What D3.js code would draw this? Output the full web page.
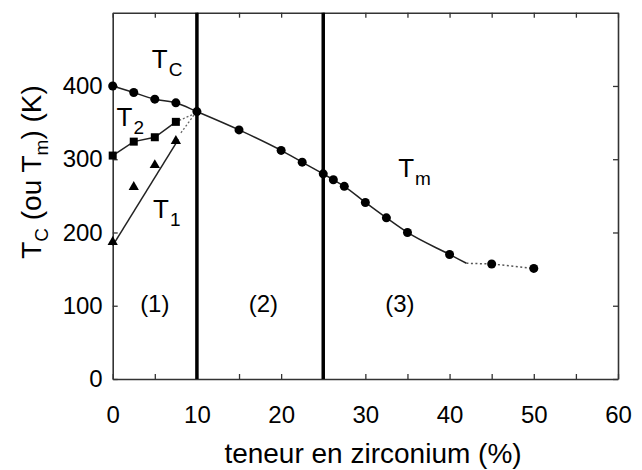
<!DOCTYPE html>
<html><head><meta charset="utf-8">
<script src="https://cdn.jsdelivr.net/npm/d3@7"></script>
<style>
body{margin:0;background:#fff}
text{font-family:Arial,"Liberation Sans",sans-serif;fill:#000}
</style>
</head><body>
<svg id="c" width="642" height="470"></svg>
<script>
// ---- data ----
const xTickValues = [0,5,10,15,20,25,30,35,40,45,50,55,60];
const xTickLabels = [0,10,20,30,40,50,60];
const yTickValues = [0,100,200,300,400];
const regionBounds = [10, 25];

// Tc (circles, x < 10) and Tm (circles, x >= 10)
const tcX = [0, 2.5, 5, 7.5, 10];
const tcY = [400, 391, 382, 377, 365];
const tmX = [15, 20, 22.5, 25, 26.2, 27.5, 30, 32.5, 35, 40, 45, 50];
const tmY = [340, 312, 296, 280, 272, 263, 241, 220, 200, 170, 157, 151];
// end of the solid Tm curve / start of the dotted part
const tmBreakX = [42];
const tmBreakY = [158];

// T2 (squares)
const t2X = [0, 2.5, 5, 7.5];
const t2Y = [305, 324, 330, 351];
const t2DotX = [7.9, 9.7];
const t2DotY = [353, 362];

// T1 (triangles) and its fitted line
const t1X = [0, 2.5, 5, 7.5];
const t1Y = [187, 262, 292, 325];
const t1LineX = [0, 7.8];
const t1LineY = [182, 327];
const t1DotX = [8.1, 9.7];
const t1DotY = [336, 361];

// annotations
const curveLabels = [
  {main:"T", sub:"C", x:4.65, y:424},
  {main:"T", sub:"2", x:0.45, y:345},
  {main:"T", sub:"1", x:4.8,  y:220},
  {main:"T", sub:"m", x:33.9, y:276}
];
const regionLabels = [{t:"(1)",x:5.0,y:92},{t:"(2)",x:17.9,y:92},{t:"(3)",x:34.1,y:92}];
const xTitle = "teneur en zirconium (%)";

// ---- drawing ----
const svg = d3.select("#c");
const x = d3.scaleLinear().domain([0,60]).range([112.7,618]);
const y = d3.scaleLinear().domain([0,500]).range([379,12.7]);
const FS = 24;

function styleAxis(g){
  g.select(".domain").attr("stroke","#333").attr("stroke-width",1.6);
  g.selectAll(".tick line").attr("stroke","#333").attr("stroke-width",1.3);
  g.selectAll(".tick text").attr("font-size",FS).attr("fill","#000")
    .attr("font-family","Arial, 'Liberation Sans', sans-serif");
}
const fmtX = d => xTickLabels.includes(d) ? d : "";
svg.append("g").attr("transform",`translate(0,${y(0)})`)
  .call(d3.axisBottom(x).tickValues(xTickValues).tickFormat(fmtX).tickSizeInner(-5).tickSizeOuter(0).tickPadding(27))
  .call(styleAxis);
svg.append("g").attr("transform",`translate(0,${y(500)})`)
  .call(d3.axisTop(x).tickValues(xTickValues).tickFormat("").tickSizeInner(-5).tickSizeOuter(0))
  .call(styleAxis);
svg.append("g").attr("transform",`translate(${x(0)},0)`)
  .call(d3.axisLeft(y).tickValues(yTickValues).tickSizeInner(-5).tickSizeOuter(0).tickPadding(10))
  .call(styleAxis);
svg.append("g").attr("transform",`translate(${x(60)},0)`)
  .call(d3.axisRight(y).tickValues(yTickValues).tickFormat("").tickSizeInner(-5).tickSizeOuter(0))
  .call(styleAxis);

// region separators
svg.selectAll("line.sep").data(regionBounds).join("line")
  .attr("x1",d=>x(d)).attr("x2",d=>x(d)).attr("y1",y(500)).attr("y2",y(0))
  .attr("stroke","#000").attr("stroke-width",3.5);

const zip = (a,b) => a.map((v,i)=>[v,b[i]]);
const line = d3.line().x(d=>x(d[0])).y(d=>y(d[1]));
const lineC = d3.line().x(d=>x(d[0])).y(d=>y(d[1])).curve(d3.curveMonotoneX);

const tcPts = zip(tcX,tcY), tmPts = zip(tmX,tmY);
const solidMain = tcPts.concat(tmPts.filter(p=>p[0] < tmBreakX[0])).concat(zip(tmBreakX,tmBreakY));
const dottedMain = zip(tmBreakX,tmBreakY).concat(tmPts.filter(p=>p[0] > tmBreakX[0]));

svg.append("path").attr("d",lineC(solidMain)).attr("fill","none").attr("stroke","#222").attr("stroke-width",1.5);
svg.append("path").attr("d",line(dottedMain)).attr("fill","none").attr("stroke","#555").attr("stroke-width",1.5).attr("stroke-dasharray","2,2.5");

svg.append("path").attr("d",line(zip(t2X,t2Y))).attr("fill","none").attr("stroke","#222").attr("stroke-width",1.5);
svg.append("path").attr("d",line(zip(t2DotX,t2DotY))).attr("fill","none").attr("stroke","#666").attr("stroke-width",1.3).attr("stroke-dasharray","2,2");
svg.append("path").attr("d",line(zip(t1LineX,t1LineY))).attr("fill","none").attr("stroke","#222").attr("stroke-width",1.5);
svg.append("path").attr("d",line(zip(t1DotX,t1DotY))).attr("fill","none").attr("stroke","#666").attr("stroke-width",1.3).attr("stroke-dasharray","2,2");

// markers
svg.selectAll("circle.m").data(tcPts.concat(tmPts)).join("circle")
  .attr("cx",d=>x(d[0])).attr("cy",d=>y(d[1])).attr("r",4.5).attr("fill","#000");
svg.selectAll("rect.m").data(zip(t2X,t2Y)).join("rect")
  .attr("x",d=>x(d[0])-4).attr("y",d=>y(d[1])-4).attr("width",8).attr("height",8).attr("fill","#000");
const tri = d3.symbol().type(d3.symbolTriangle).size(46);
svg.selectAll("path.tri").data(zip(t1X,t1Y)).join("path")
  .attr("transform",d=>`translate(${x(d[0])},${y(d[1])})`).attr("d",tri).attr("fill","#000");

// curve labels
curveLabels.forEach(l=>{
  const t = svg.append("text").attr("x",x(l.x)).attr("y",y(l.y)).attr("font-size",26);
  t.append("tspan").text(l.main);
  t.append("tspan").attr("font-size",19).attr("dy",8).attr("dx",1).text(l.sub);
});
svg.selectAll("text.reg").data(regionLabels).join("text")
  .attr("x",d=>x(d.x)).attr("y",d=>y(d.y)).attr("text-anchor","middle").attr("font-size",FS).text(d=>d.t);

// axis titles
svg.append("text").attr("x",373).attr("y",463).attr("text-anchor","middle").attr("font-size",28).text(xTitle);
const yl = svg.append("text").attr("transform","translate(41,172) rotate(-90)").attr("text-anchor","middle").attr("font-size",28);
yl.append("tspan").text("T");
yl.append("tspan").attr("font-size",19).attr("dy",7).text("C");
yl.append("tspan").attr("dy",-7).text(" (ou T");
yl.append("tspan").attr("font-size",19).attr("dy",7).text("m");
yl.append("tspan").attr("dy",-7).text(") (K)");
</script>
</body></html>
